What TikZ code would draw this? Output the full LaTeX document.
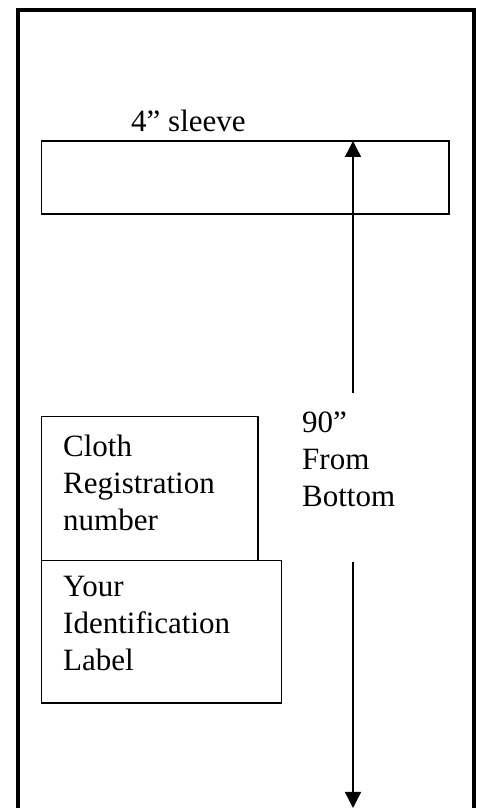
\documentclass[tikz,border=0pt]{standalone}
\usepackage{fontspec}
\setmainfont{Liberation Serif}
\usetikzlibrary{arrows.meta}
\begin{document}
\begin{tikzpicture}[x=1pt,y=1pt,
  frame/.style={line width=4pt},
  boxline/.style={draw, line width=1.4pt},
  txt/.style={inner sep=0pt, align=left, anchor=base west,
    font=\fontsize{31}{37}\selectfont},
  dimarrow/.style={line width=1.4pt, -{Triangle[length=16pt,width=16pt]}}]
\useasboundingbox (0,0) rectangle (481,808);
% outer frame (bottom open)
\draw[frame] (18,-5) -- (18,798) -- (474,798) -- (474,-5);
% sleeve
\draw[boxline] (41.7,594) rectangle (449,667);
\node[txt] (sleeve) at (131,676.5) {4” sleeve};
% registration box
\draw[boxline] (41.7,247.5) rectangle (258,391.3);
\node[txt] (reg) at (63,277) {Cloth\\Registration\\number};
% identification box
\draw[boxline] (41.7,105) rectangle (281.7,247.5);
\node[txt] (ident) at (63,137) {Your\\Identification\\Label};
% dimension
\node[txt] (dim) at (302,301) {90”\\From\\Bottom};
\coordinate (upA) at (353,415);
\coordinate (upB) at (353,667);
\coordinate (dnA) at (353,246);
\coordinate (dnB) at (353,0);
\draw[dimarrow] (upA) -- (upB);
\draw[dimarrow] (dnA) -- (dnB);
\end{tikzpicture}
\end{document}
